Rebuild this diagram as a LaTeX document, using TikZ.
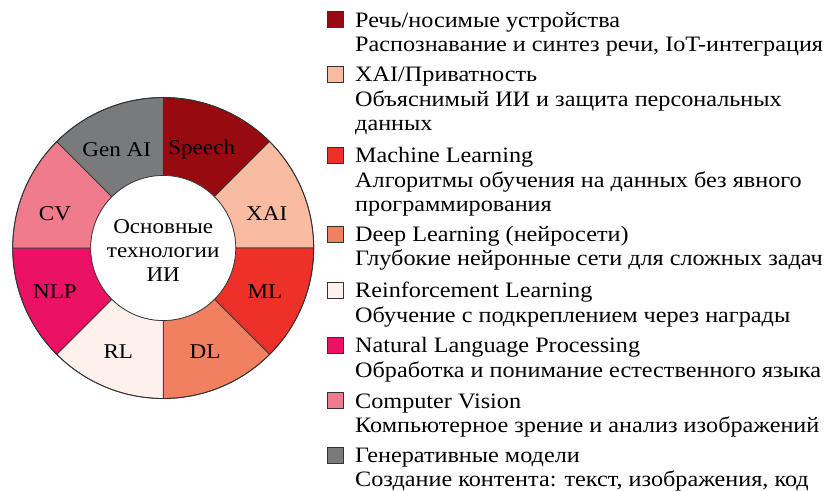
\documentclass[tikz,border=0pt]{standalone}
\usepackage{fontspec}
\setmainfont{Liberation Serif}[FakeStretch=1.1]
\definecolor{cSpeech}{HTML}{960A10}
\definecolor{cXAI}{HTML}{F9BBA1}
\definecolor{cML}{HTML}{EE3128}
\definecolor{cDL}{HTML}{F08060}
\definecolor{cRL}{HTML}{FEF1EC}
\definecolor{cNLP}{HTML}{EB1165}
\definecolor{cCV}{HTML}{F07B8D}
\definecolor{cGen}{HTML}{797A7C}
\definecolor{edge}{HTML}{333333}
\tikzset{
  seglabel/.style={font=\fontsize{21}{24}\selectfont, inner sep=0pt},
  legtext/.style={font=\fontsize{22}{24.5}\selectfont, anchor=base west, align=left, inner sep=0pt},
  legbox/.style={draw=edge, line width=0.6pt, minimum size=16pt, inner sep=0pt, anchor=south west},
}
\newcommand{\donutseg}[3]{%
  \filldraw[fill=#1, draw=edge, line width=0.7pt] (#2:72.5) arc[start angle=#2, end angle=#3, radius=72.5] -- (#3:150.5) arc[start angle=#3, end angle=#2, radius=150.5] -- cycle;}
\begin{document}
\begin{tikzpicture}[x=1pt,y=-1pt]
\useasboundingbox (0,0) rectangle (838,490);
\begin{scope}[shift={(163.2,248)}, y=1pt]
  \donutseg{cSpeech}{90}{45}
  \donutseg{cXAI}{45}{0}
  \donutseg{cML}{0}{-45}
  \donutseg{cDL}{-45}{-90}
  \donutseg{cRL}{-90}{-135}
  \donutseg{cNLP}{-135}{-180}
  \donutseg{cCV}{180}{135}
  \donutseg{cGen}{135}{90}
  \draw[draw=edge, line width=0.9pt] (0,0) circle[radius=150.5];
  \draw[draw=edge, line width=0.7pt, fill=white] (0,0) circle[radius=72.5];
\end{scope}
\node[seglabel] (lSpeech) at (201.7,149.3) {Speech};
\node[seglabel] (lGen) at (116.7,149.3) {Gen AI};
\node[seglabel] (lXAI) at (266.7,213.3) {XAI};
\node[seglabel] (lCV) at (55,213.3) {CV};
\node[seglabel] (lML) at (265,291.7) {ML};
\node[seglabel] (lNLP) at (55,291.7) {NLP};
\node[seglabel] (lDL) at (205,351.7) {DL};
\node[seglabel] (lRL) at (118.3,351.7) {RL};
\node[seglabel, align=center] (center) at (163.2,251) {Основные\\технологии\\ИИ};
% legend
\node[legbox, fill=cSpeech] (b1) at (327,27.5) {};
\node[legtext] (t1) at (355,51.7) {Речь/носимые устройства\\Распознавание и синтез речи, IoT-интеграция};
\node[legbox, fill=cXAI] (b2) at (327,82.5) {};
\node[legtext] (t2) at (355,130.7) {XAI/Приватность\\Объяснимый ИИ и защита персональных\\данных};
\node[legbox, fill=cML] (b3) at (327,163.5) {};
\node[legtext] (t3) at (355,211.7) {Machine Learning\\Алгоритмы обучения на данных без явного\\программирования};
\node[legbox, fill=cDL] (b4) at (327,242.5) {};
\node[legtext] (t4) at (355,265.5) {Deep Learning (нейросети)\\Глубокие нейронные сети для сложных задач};
\node[legbox, fill=cRL] (b5) at (327,299) {};
\node[legtext] (t5) at (355,322) {Reinforcement Learning\\Обучение с подкреплением через награды};
\node[legbox, fill=cNLP] (b6) at (327,353.5) {};
\node[legtext] (t6) at (355,377) {Natural Language Processing\\Обработка и понимание естественного языка};
\node[legbox, fill=cCV] (b7) at (327,409) {};
\node[legtext] (t7) at (355,432.7) {Computer Vision\\Компьютерное зрение и анализ изображений};
\node[legbox, fill=cGen] (b8) at (327,463.5) {};
\node[legtext] (t8) at (355,486.7) {Генеративные модели\\Создание контента: текст, изображения, код};
\end{tikzpicture}
\end{document}
